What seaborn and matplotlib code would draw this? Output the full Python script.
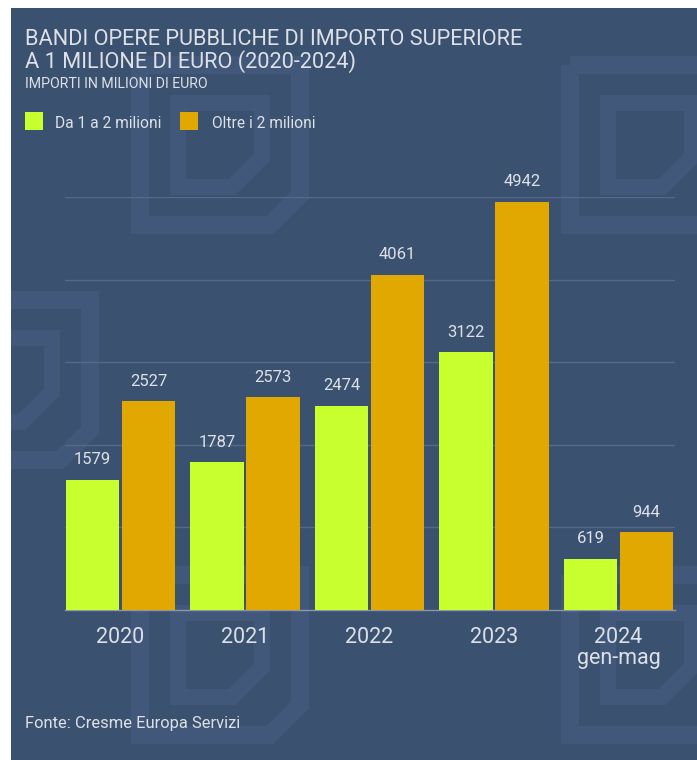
import matplotlib
matplotlib.use("Agg")
import matplotlib.pyplot as plt
import seaborn as sns
import pandas as pd
from matplotlib.patches import Rectangle, Polygon

years = ["2020", "2021", "2022", "2023", "2024"]
tick_labels = ["2020", "2021", "2022", "2023", "2024\ngen-mag"]
series_names = ["Da 1 a 2 milioni", "Oltre i 2 milioni"]
da_1_a_2 = [1579, 1787, 2474, 3122, 619]
oltre_2 = [2527, 2573, 4061, 4942, 944]

df = pd.DataFrame({
    "anno": years * 2,
    "serie": [series_names[0]] * 5 + [series_names[1]] * 5,
    "valore": da_1_a_2 + oltre_2,
})

BG = "#3b5170"
MOTIF = "#42587a"
GREEN = "#c8ff2e"
GOLD = "#e0a800"
TXT = "#dde1e7"

sns.set_style("white")
plt.rcParams["font.family"] = ["Roboto", "DejaVu Sans"]

W, H = 697, 760
fig = plt.figure(figsize=(W / 100, H / 100), dpi=100)
fig.patch.set_facecolor("white")

def fx(x):
    return x / W

def fy(y):
    return 1 - y / H

# panel background
panel = Rectangle((fx(11), 0), 1 - fx(11), fy(8), transform=fig.transFigure,
                  facecolor=BG, edgecolor="none", zorder=0)
fig.patches.append(panel)

# decorative faint motifs
def motif(x0, y0, S):
    c = 30
    for off, lw in [(0, 18), (38, 16)]:
        a, b, s = x0 + off, y0 + off, S - 2 * off
        pts = [(a, b), (a + s, b), (a + s, b + s - c), (a + s - c, b + s), (a, b + s)]
        poly = Polygon([(fx(p), fy(q)) for p, q in pts], closed=True, transform=fig.transFigure,
                       facecolor="none", edgecolor=MOTIF, lw=lw * 0.72, joinstyle="miter", zorder=0.5)
        poly.set_clip_path(panel)
        fig.patches.append(poly)

for (mx, my) in [(140, 65), (570, 65), (-70, 300), (140, 575), (570, 575)]:
    motif(mx, my, 160)

ax = fig.add_axes([fx(65), fy(610), fx(675) - fx(65), fy(197) - fy(610)])
ax.set_facecolor("none")
ax.set_zorder(3)

sns.barplot(data=df, x="anno", y="valore", hue="serie", palette=[GREEN, GOLD],
            width=0.9, gap=0.05, ax=ax, legend=False, saturation=1, zorder=3,
            linewidth=0, edgecolor="none")

ax.set_xlim(-0.446, 4.454)
ax.set_ylim(0, 5000)
ax.set_yticks([1000, 2000, 3000, 4000, 5000])
ax.yaxis.grid(True, color="#566a89", lw=1)
ax.set_axisbelow(True)
for s in ["top", "right", "left"]:
    ax.spines[s].set_visible(False)
ax.spines["bottom"].set_color("#8a97ab")
ax.spines["bottom"].set_linewidth(1)
ax.tick_params(axis="y", left=False, labelleft=False)
ax.tick_params(axis="x", bottom=False, pad=9, labelsize=15.5, labelcolor=TXT)
ax.set_xticks(range(5))
ax.set_xticklabels(tick_labels, linespacing=0.95)
ax.set_xlabel("")
ax.set_ylabel("")

for cont in ax.containers:
    ax.bar_label(cont, labels=[f"{int(v)}" for v in cont.datavalues], padding=9,
                 fontsize=12, color=TXT, clip_on=False)

# titles
fig.text(fx(25), fy(45), "BANDI OPERE PUBBLICHE DI IMPORTO SUPERIORE", fontsize=15.7,
         color=TXT, va="baseline", ha="left", zorder=4)
fig.text(fx(25), fy(68), "A 1 MILIONE DI EURO (2020-2024)", fontsize=15.7,
         color=TXT, va="baseline", ha="left", zorder=4)
fig.text(fx(25), fy(88), "IMPORTI IN MILIONI DI EURO", fontsize=10.2,
         color=TXT, va="baseline", ha="left", zorder=4)

# legend
for (lx, tx, col, name) in [(25, 55, GREEN, series_names[0]), (180, 212, GOLD, series_names[1])]:
    fig.patches.append(Rectangle((fx(lx), fy(130)), 18 / W, 18 / H, transform=fig.transFigure,
                                 facecolor=col, edgecolor="none", zorder=2))
    fig.text(fx(tx), fy(128), name, fontsize=11.2, color=TXT, va="baseline", ha="left", zorder=4)

fig.text(fx(25), fy(728), "Fonte: Cresme Europa Servizi", fontsize=11.9, color=TXT,
         va="baseline", ha="left", zorder=4)

fig.savefig("out.png", dpi=100, facecolor=fig.get_facecolor())
